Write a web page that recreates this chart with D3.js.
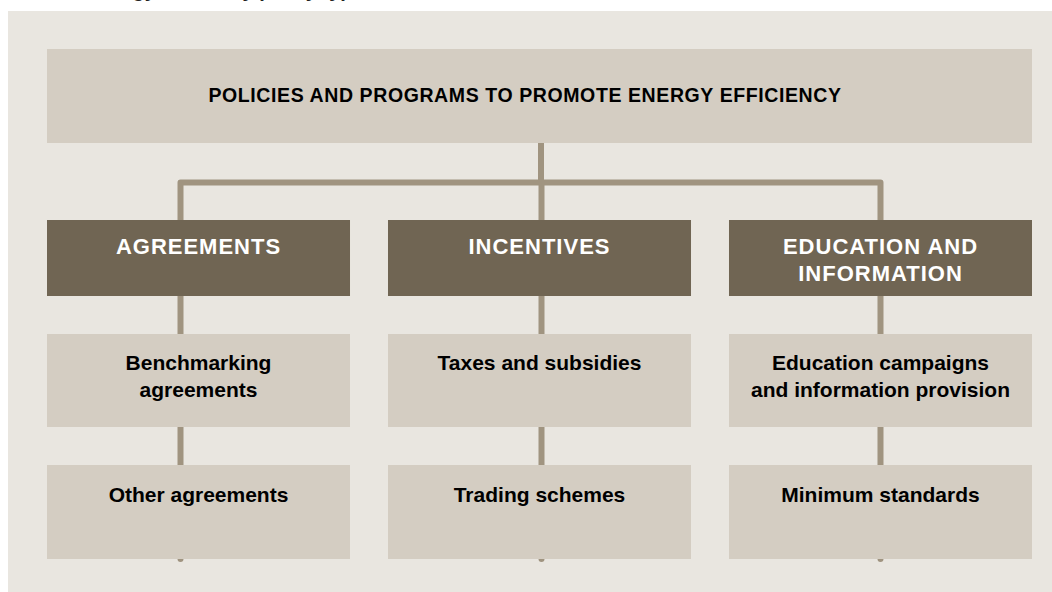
<!DOCTYPE html>
<meta charset="utf-8">
<head>
<script src="https://d3js.org/d3.v7.min.js"></script>
<style>
  body { margin: 0; background: #ffffff; }
  text { font-family: Arial, "Liberation Sans", sans-serif; font-weight: bold; }
</style>
</head>
<body>
<div id="my_dataviz"></div>
<script>

// chart content
var caption = "Energy efficiency policy types";
var title = "POLICIES AND PROGRAMS TO PROMOTE ENERGY EFFICIENCY";
var categories = [["AGREEMENTS"], ["INCENTIVES"], ["EDUCATION AND", "INFORMATION"]];
var level1 = [["Benchmarking", "agreements"], ["Taxes and subsidies"], ["Education campaigns", "and information provision"]];
var level2 = [["Other agreements"], ["Trading schemes"], ["Minimum standards"]];

var width = 1052, height = 592;

var svg = d3.select("#my_dataviz")
  .append("svg")
    .attr("width", width)
    .attr("height", height);

// colours
var panelFill = "#e9e6e0",
    boxFill = "#d4cdc2",
    headFill = "#706553",
    lineCol = "#a09480";

// column layout
var x = d3.scaleBand()
  .domain(d3.range(categories.length))
  .range([47, 1032])
  .paddingInner(0.1114);

// connectors sit slightly off the column centre in the original
var connOffset = [-18, 2, 0];
function connX(i) { return x(i) + x.bandwidth() / 2 + connOffset[i]; }

// rows: header, level 1, level 2
var rows = [
  {top: 220, h: 76, data: categories, fill: headFill, color: "#ffffff", size: 22, ls: 1, base: 34},
  {top: 334, h: 93, data: level1, fill: boxFill, color: "#000000", size: 21, ls: 0, base: 36},
  {top: 465, h: 94, data: level2, fill: boxFill, color: "#000000", size: 21, ls: 0, base: 37}
];

// background panel
svg.append("rect")
  .attr("x", 8).attr("y", 11)
  .attr("width", width - 8).attr("height", height - 11)
  .attr("fill", panelFill);

// caption above the panel, cropped by the top edge as in the original
svg.append("text")
  .attr("x", 88).attr("y", -3)
  .attr("font-size", "20px")
  .attr("fill", "#222")
  .text(caption);

// connector lines (behind boxes)
var hY = 182.5;
svg.append("path")
  .attr("d", "M" + connX(0) + "," + (rows[2].top + rows[2].h) + "V" + hY + "H" + connX(2) + "V" + (rows[2].top + rows[2].h))
  .attr("fill", "none")
  .attr("stroke", lineCol)
  .attr("stroke-width", 6)
  .attr("stroke-linejoin", "round")
  .attr("stroke-linecap", "round");

svg.selectAll("vlines")
  .data([1])
  .enter()
  .append("line")
    .attr("x1", function(i){ return connX(i); })
    .attr("x2", function(i){ return connX(i); })
    .attr("y1", hY)
    .attr("y2", rows[2].top + rows[2].h)
    .attr("stroke", lineCol)
    .attr("stroke-width", 6)
    .attr("stroke-linecap", "round");

svg.append("line")
  .attr("x1", 541).attr("x2", 541)
  .attr("y1", 140).attr("y2", hY)
  .attr("stroke", lineCol)
  .attr("stroke-width", 6);

// top box
svg.append("rect")
  .attr("x", 47).attr("y", 49)
  .attr("width", 1032 - 47).attr("height", 94)
  .attr("fill", boxFill);

svg.append("text")
  .attr("x", 525)
  .attr("y", 102)
  .attr("text-anchor", "middle")
  .attr("font-size", "19.5px")
  .attr("letter-spacing", "0.6px")
  .attr("fill", "#000")
  .text(title);

// boxes and labels per row
rows.forEach(function(r) {
  var g = svg.append("g");
  g.selectAll("rect")
    .data(r.data)
    .enter()
    .append("rect")
      .attr("x", function(d, i){ return x(i); })
      .attr("y", r.top)
      .attr("width", x.bandwidth())
      .attr("height", r.h)
      .attr("fill", r.fill);

  g.selectAll("text")
    .data(r.data)
    .enter()
    .append("text")
      .attr("text-anchor", "middle")
      .attr("font-size", r.size + "px")
      .attr("letter-spacing", r.ls + "px")
      .attr("fill", r.color)
      .each(function(d, i) {
        var t = d3.select(this);
        d.forEach(function(line, k) {
          t.append("tspan")
            .attr("x", x(i) + x.bandwidth() / 2)
            .attr("y", r.top + r.base + k * 27)
            .text(line);
        });
      });
});

</script>
</body>
